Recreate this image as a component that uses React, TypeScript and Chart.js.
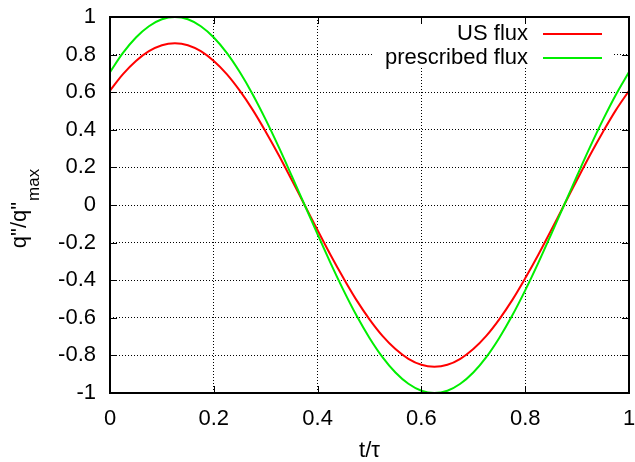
import React, { useEffect, useRef } from "react";
import { Chart, registerables } from "chart.js";

Chart.register(...registerables);

const tValues = [
  0, 0.025, 0.05, 0.075, 0.1, 0.125, 0.15, 0.175, 0.2, 0.225, 0.25, 0.275, 0.3, 0.325, 0.35, 0.375, 0.4,
  0.425, 0.45, 0.475, 0.5, 0.525, 0.55, 0.575, 0.6, 0.625, 0.65, 0.675, 0.7, 0.725, 0.75, 0.775, 0.8,
  0.825, 0.85, 0.875, 0.9, 0.925, 0.95, 0.975, 1,
];

const usFlux = [
  0.608, 0.696, 0.766, 0.818, 0.85, 0.86, 0.85, 0.818, 0.766, 0.696, 0.608, 0.506, 0.39, 0.266, 0.134, 0,
  -0.134, -0.266, -0.39, -0.506, -0.608, -0.696, -0.766, -0.818, -0.85, -0.86, -0.85, -0.818, -0.766,
  -0.696, -0.608, -0.506, -0.39, -0.266, -0.134, 0, 0.134, 0.266, 0.39, 0.506, 0.608,
];

const prescribedFlux = [
  0.707, 0.809, 0.891, 0.951, 0.988, 1, 0.988, 0.951, 0.891, 0.809, 0.707, 0.588, 0.454, 0.309, 0.156, 0,
  -0.156, -0.309, -0.454, -0.588, -0.707, -0.809, -0.891, -0.951, -0.988, -1, -0.988, -0.951, -0.891,
  -0.809, -0.707, -0.588, -0.454, -0.309, -0.156, 0, 0.156, 0.309, 0.454, 0.588, 0.707,
];

const xTicks = [0, 0.2, 0.4, 0.6, 0.8, 1];
const yTicks = [-1, -0.8, -0.6, -0.4, -0.2, 0, 0.2, 0.4, 0.6, 0.8, 1];
const seriesLabels = ["US flux", "prescribed flux"];
const seriesColors = ["#ff0000", "#00ee00"];

const FONT = "'Liberation Sans', Arial, Helvetica, sans-serif";

const framePlugin = {
  id: "gnuFrame",
  beforeDatasetsDraw(chart: any) {
    const { ctx } = chart;
    ctx.save();
    ctx.fillStyle = "#fff";
    ctx.fillRect(374, 18, 240, 50);
    ctx.restore();
  },
  afterDatasetsDraw(chart: any) {
    const { ctx, chartArea } = chart;
    const { left, right, top, bottom } = chartArea;
    const xs = chart.scales.x;
    const ys = chart.scales.y;
    ctx.save();
    ctx.strokeStyle = "#000";
    ctx.lineWidth = 1;
    ctx.setLineDash([]);
    const tl = 7;
    ctx.beginPath();
    for (const v of xTicks) {
      const px = Math.round(xs.getPixelForValue(v)) + 0.5;
      ctx.moveTo(px, bottom);
      ctx.lineTo(px, bottom - tl);
      ctx.moveTo(px, top);
      ctx.lineTo(px, top + tl);
    }
    for (const v of yTicks) {
      const py = Math.round(ys.getPixelForValue(v)) + 0.5;
      ctx.moveTo(left, py);
      ctx.lineTo(left + tl, py);
      ctx.moveTo(right, py);
      ctx.lineTo(right - tl, py);
    }
    ctx.stroke();
    ctx.lineWidth = 2;
    ctx.strokeRect(left, top, right - left, bottom - top);

    // legend (gnuplot style: text then line sample)
    ctx.font = `22px ${FONT}`;
    ctx.textAlign = "right";
    ctx.textBaseline = "middle";
    const rows = [34, 58];
    chart.data.datasets.forEach((ds: any, i: number) => {
      const y = rows[i];
      ctx.fillStyle = "#000";
      ctx.fillText(ds.label, 528, y);
      ctx.strokeStyle = ds.borderColor;
      ctx.lineWidth = 2;
      ctx.beginPath();
      ctx.moveTo(543, y);
      ctx.lineTo(602, y);
      ctx.stroke();
    });

    // x title
    ctx.fillStyle = "#000";
    ctx.textAlign = "center";
    ctx.textBaseline = "middle";
    ctx.font = `22px ${FONT}`;
    ctx.fillText("t/τ", (left + right) / 2, 451);

    // y title with subscript
    ctx.save();
    ctx.rotate(-Math.PI / 2);
    ctx.textAlign = "left";
    ctx.textBaseline = "alphabetic";
    const main = 'q"/q"';
    ctx.font = `22px ${FONT}`;
    const w1 = ctx.measureText(main).width;
    ctx.font = `17px ${FONT}`;
    const w2 = ctx.measureText("max").width;
    const total = w1 + w2;
    const cy = 209;
    const start = -cy - total / 2;
    ctx.font = `22px ${FONT}`;
    ctx.fillText(main, start, 26);
    ctx.font = `17px ${FONT}`;
    ctx.fillText("max", start + w1 + 1, 39);
    ctx.restore();

    ctx.restore();
  },
};

export default function App() {
  const ref = useRef<HTMLCanvasElement | null>(null);
  useEffect(() => {
    if (!ref.current) return;
    const datasets = [usFlux, prescribedFlux].map((vals, i) => ({
      label: seriesLabels[i],
      data: tValues.map((t, j) => ({ x: t, y: vals[j] })),
      borderColor: seriesColors[i],
      backgroundColor: seriesColors[i],
      borderWidth: 2,
      pointRadius: 0,
      tension: 0.35,
      fill: false,
      order: i === 0 ? 1 : 0,
    }));
    const chart = new Chart(ref.current, {
      type: "line",
      data: { datasets },
      options: {
        animation: false,
        responsive: false,
        devicePixelRatio: 1,
        layout: { padding: { left: 0, right: 6, top: 17, bottom: 0 } },
        plugins: { legend: { display: false }, tooltip: { enabled: false } },
        scales: {
          x: {
            type: "linear",
            min: 0,
            max: 1,
            afterFit(scale: any) {
              scale.height = 69;
              scale.paddingLeft = 0;
              scale.paddingRight = 0;
              scale.paddingTop = 0;
              scale.paddingBottom = 0;
            },
            afterBuildTicks(scale: any) {
              scale.ticks = xTicks.map((v) => ({ value: v }));
            },
            ticks: {
              font: { family: FONT, size: 22 },
              color: "#000",
              padding: 13,
              maxRotation: 0,
              callback: (v: any) => String(v),
            },
            grid: { color: "#000", lineWidth: 1, drawTicks: false },
            border: { display: false, dash: [1, 2] },
          },
          y: {
            type: "linear",
            min: -1,
            max: 1,
            afterFit(scale: any) {
              scale.width = 110;
              scale.paddingLeft = 0;
              scale.paddingRight = 0;
              scale.paddingTop = 0;
              scale.paddingBottom = 0;
            },
            afterBuildTicks(scale: any) {
              scale.ticks = yTicks.map((v) => ({ value: v }));
            },
            ticks: {
              font: { family: FONT, size: 22 },
              color: "#000",
              padding: 14,
              callback: (v: any) => String(Math.round(v * 10) / 10),
            },
            grid: { color: "#000", lineWidth: 1, drawTicks: false },
            border: { display: false, dash: [1, 2] },
          },
        },
      },
      plugins: [framePlugin],
    });
    return () => chart.destroy();
  }, []);
  return (
    <div style={{ position: "fixed", left: 0, top: 0, width: 635, height: 462, background: "#fff" }}>
      <canvas ref={ref} width={635} height={462} style={{ width: 635, height: 462, display: "block" }} />
    </div>
  );
}
